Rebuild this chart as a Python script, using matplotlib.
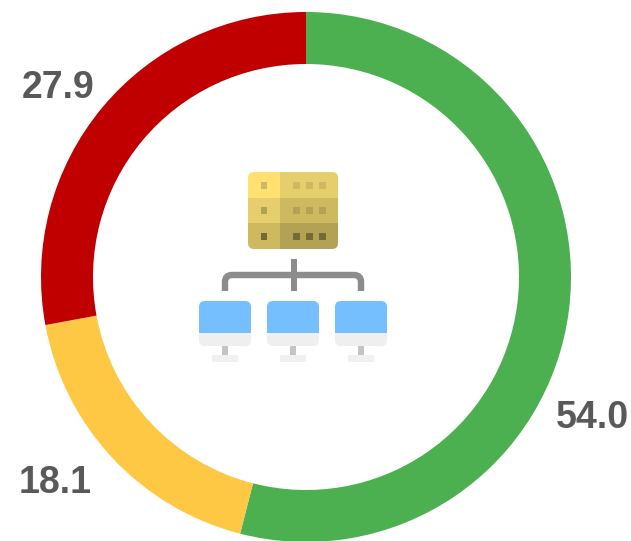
import matplotlib
matplotlib.use("Agg")
import matplotlib.pyplot as plt
from matplotlib.patches import Rectangle, FancyBboxPatch, PathPatch
from matplotlib.path import Path

values = [54.0, 18.1, 27.9]
labels = ["54.0", "18.1", "27.9"]
colors = ["#4CAF50", "#FFC844", "#C00000"]
label_px = [(592, 417.5), (55.5, 483), (58, 87.5)]

W, H = 631, 541
fig = plt.figure(figsize=(W / 100, H / 100), dpi=100, facecolor="white")

# Donut
cx, cy, R, r = 306, 277, 265, 213
ax = fig.add_axes([(cx - R) / W, 1 - (cy + R) / H, 2 * R / W, 2 * R / H])
ax.pie(values, colors=colors, startangle=90, counterclock=False, radius=1,
       wedgeprops=dict(width=1 - r / R, linewidth=0))
ax.set_xlim(-1, 1)
ax.set_ylim(-1, 1)
ax.set_aspect("equal")
ax.axis("off")

# Overlay in pixel coordinates
ov = fig.add_axes([0, 0, 1, 1], facecolor="none")
ov.set_xlim(0, W)
ov.set_ylim(H, 0)
ov.axis("off")

for lab, (x, y) in zip(labels, label_px):
    ov.text(x, y, lab, ha="center", va="center", fontsize=27, fontweight="bold",
            family="Liberation Sans", color="#595959")

def rect(x0, y0, x1, y1, c, clip=None, z=3):
    p = Rectangle((x0, y0), x1 - x0, y1 - y0, fc=c, ec="none", zorder=z)
    ov.add_patch(p)
    if clip is not None:
        p.set_clip_path(clip)
    return p

def rounded(x0, y0, x1, y1, rad):
    p = FancyBboxPatch((x0 + rad, y0 + rad), x1 - x0 - 2 * rad, y1 - y0 - 2 * rad,
                       boxstyle=f"round,pad={rad},rounding_size={rad}",
                       fc="none", ec="none")
    ov.add_patch(p)
    return p

# Server icon
clip = rounded(248, 172, 338, 249, 6)
rows = [(172, 198), (198, 223), (223, 249)]
left = ["#FFE070", "#E5CE6B", "#CDB95F"]
right = ["#E5CE6B", "#CDB95F", "#B3A154"]
dots = ["#CDB95F", "#B3A154", "#756A37"]
for (y0, y1), a, b in zip(rows, left, right):
    rect(248, y0, 280, y1, a, clip)
    rect(280, y0, 338, y1, b, clip)
for y0, d in zip([182, 207, 233], dots):
    rect(261, y0, 267, y0 + 6.5, d, z=4)
    for x0 in (293, 306, 319):
        rect(x0, y0, x0 + 6.5, y0 + 6.5, d, z=4)

# Connector
grey = "#8C8C8C"
rect(290.5, 259, 296.5, 291, grey)
verts = [(225, 291), (225, 282), (225, 275), (232, 275), (354, 275),
         (361, 275), (361, 282), (361, 291)]
codes = [Path.MOVETO, Path.LINETO, Path.CURVE3, Path.CURVE3, Path.LINETO,
         Path.CURVE3, Path.CURVE3, Path.LINETO]
ov.add_patch(PathPatch(Path(verts, codes), fc="none", ec=grey, lw=4.6,
                       capstyle="butt", zorder=3))

# Monitors
for x0 in (199, 267, 335):
    x1 = x0 + 52
    c = rounded(x0, 301, x1, 346, 6)
    rect(x0, 301, x1, 333, "#75BEFF", c)
    rect(x0, 333, x1, 346, "#EFEFEF", c)
    xm = (x0 + x1) / 2
    rect(xm - 3.2, 346, xm + 3.2, 355, "#C4C4C4")
    rect(xm - 13, 355, xm + 13, 362, "#F0F0F0")

fig.savefig("out.png", dpi=100, facecolor="white")
